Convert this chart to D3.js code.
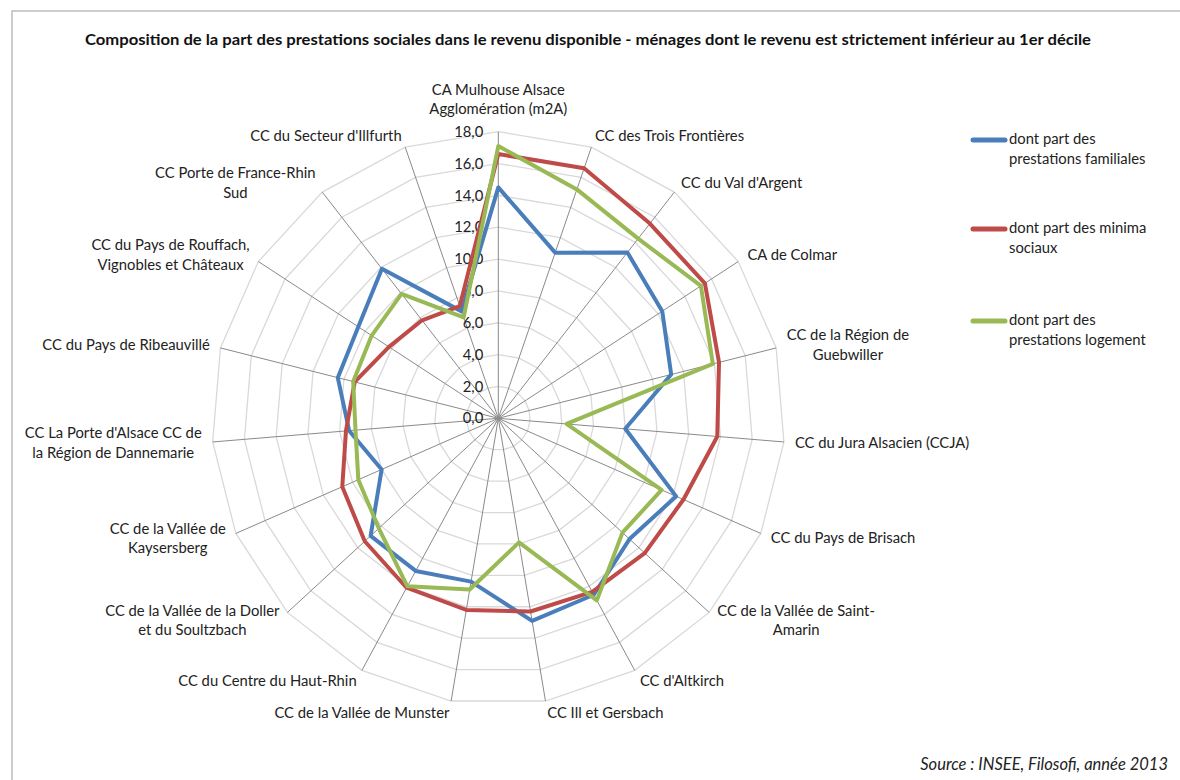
<!DOCTYPE html>
<html lang="fr">
<head>
<meta charset="utf-8">
<script src="https://cdn.jsdelivr.net/npm/d3@7"></script>
<style>
  html, body { margin: 0; padding: 0; background: #fff; }
  svg { display: block; font-family: Lato, "Open Sans", sans-serif; }
</style>
</head>
<body>
<svg id="chart" width="1180" height="780"></svg>
<script>
// Territoires (EPCI du Haut-Rhin), dans l'ordre des axes, en partant du haut, sens horaire
const categories = [
  ["CA Mulhouse Alsace", "Agglomération (m2A)"],
  ["CC des Trois Frontières"],
  ["CC du Val d'Argent"],
  ["CA de Colmar"],
  ["CC de la Région de", "Guebwiller"],
  ["CC du Jura Alsacien (CCJA)"],
  ["CC du Pays de Brisach"],
  ["CC de la Vallée de Saint-", "Amarin"],
  ["CC d'Altkirch"],
  ["CC Ill et Gersbach"],
  ["CC de la Vallée de Munster"],
  ["CC du Centre du Haut-Rhin"],
  ["CC de la Vallée de la Doller", "et du Soultzbach"],
  ["CC de la Vallée de", "Kaysersberg"],
  ["CC La Porte d'Alsace CC de", "la Région de Dannemarie"],
  ["CC du Pays de Ribeauvillé"],
  ["CC du Pays de Rouffach,", "Vignobles et Châteaux"],
  ["CC Porte de France-Rhin", "Sud"],
  ["CC du Secteur d'Illfurth"]
];

// Part dans le revenu disponible (%)
const familiales = [14.5, 11.0, 13.2, 12.3, 11.2, 8.0, 12.2, 11.2, 12.6, 12.9, 10.4, 10.9, 10.9, 8.0, 9.4, 10.4, 10.5, 11.9, 7.1];
const minima     = [16.6, 16.6, 15.5, 15.5, 14.3, 13.8, 12.7, 12.5, 12.4, 12.3, 12.2, 12.1, 11.4, 10.7, 9.6, 9.3, 8.2, 7.8, 7.45];
const logement   = [17.1, 15.2, 14.3, 15.2, 13.9, 4.3, 11.2, 10.6, 13.0, 7.9, 10.9, 12.0, 10.2, 9.6, 9.0, 9.4, 9.5, 9.9, 6.7];

const tickValues = [0, 2, 4, 6, 8, 10, 12, 14, 16, 18];

const seriesNames = [
  ["dont part des", "prestations familiales"],
  ["dont part des minima", "sociaux"],
  ["dont part des", "prestations logement"]
];
const seriesColors = ["#4a7ebb", "#be4b48", "#98b954"];

const title = "Composition de la part des prestations sociales dans le revenu disponible - ménages dont le revenu est strictement inférieur au 1er décile";
const source = "Source : INSEE, Filosofi, année 2013";

// ---- Mise en page ----
const svg = d3.select("#chart");
const cx = 498.3, cy = 418.3, R = 286.6;
const n = categories.length;
const fontSize = 14.8;
const lineH = 19.5;

const r = d3.scaleLinear().domain([0, 18]).range([0, R]);
const angle = d3.scaleLinear().domain([0, n]).range([0, 2 * Math.PI]);
const fr = d3.formatLocale({ decimal: ",", thousands: " ", grouping: [3], currency: ["", "€"] });
const fmt = fr.format(".1f");

// Cadre
svg.append("path")
  .attr("d", "M12,780 V11 H1180")
  .attr("fill", "none")
  .attr("stroke", "#bdbdbd")
  .attr("stroke-width", 1.5);

// Titre
svg.append("text")
  .attr("x", 588).attr("y", 45)
  .attr("text-anchor", "middle")
  .attr("font-weight", "bold")
  .attr("font-size", 14.5)
  .attr("fill", "#111")
  .attr("textLength", 1006)
  .attr("lengthAdjust", "spacingAndGlyphs")
  .text(title);

const g = svg.append("g").attr("transform", `translate(${cx},${cy})`);

const pt = (i, v) => [Math.sin(angle(i)) * r(v), -Math.cos(angle(i)) * r(v)];

// Grille polygonale
const ring = d3.lineRadial()
  .angle((d, i) => angle(i))
  .radius(d => r(d))
  .curve(d3.curveLinearClosed);

g.selectAll(".grid")
  .data(tickValues.filter(t => t > 0))
  .join("path")
  .attr("class", "grid")
  .attr("d", t => ring(d3.range(n).map(() => t)))
  .attr("fill", "none")
  .attr("stroke", "#d9d9d9")
  .attr("stroke-width", 1.3);

// Axes rayonnants
g.selectAll(".spoke")
  .data(d3.range(n))
  .join("line")
  .attr("class", "spoke")
  .attr("x1", 0).attr("y1", 0)
  .attr("x2", i => pt(i, 18)[0])
  .attr("y2", i => pt(i, 18)[1])
  .attr("stroke", "#8a8a8a")
  .attr("stroke-width", 1);

// Graduations
g.selectAll(".tick")
  .data(tickValues)
  .join("text")
  .attr("class", "tick")
  .attr("x", -15)
  .attr("y", t => -r(t))
  .attr("dy", "0.35em")
  .attr("text-anchor", "end")
  .attr("font-size", fontSize)
  .attr("fill", "#222")
  .text(t => fmt(t));

// Séries
const line = d3.lineRadial()
  .angle((d, i) => angle(i))
  .radius(d => r(d))
  .curve(d3.curveLinearClosed);

[familiales, minima, logement].forEach((vals, k) => {
  g.append("path")
    .attr("d", line(vals))
    .attr("fill", "none")
    .attr("stroke", seriesColors[k])
    .attr("stroke-width", 4)
    .attr("stroke-linejoin", "round");
});

// Libellés des axes : bloc centré, accolé à l'extrémité de l'axe
g.selectAll(".cat")
  .data(categories)
  .join("text")
  .attr("class", "cat")
  .attr("font-size", fontSize)
  .attr("fill", "#222")
  .each(function (lines, i) {
    const a = angle(i);
    const s = Math.sin(a), c = Math.cos(a);
    const [ex, ey] = pt(i, 18);
    const top = Math.abs(s) < 0.05;
    const t = d3.select(this);
    const spans = t.selectAll("tspan").data(lines).join("tspan").text(d => d);
    const widths = [];
    spans.each(function () { widths.push(this.getComputedTextLength()); });
    const wMax = d3.max(widths);
    let xc, yc;
    if (top) {
      xc = ex;
      yc = ey - 14 - (lines.length * lineH) / 2 + 1;
    } else {
      const gap = 11 * Math.abs(s);
      xc = s > 0 ? ex + gap + wMax / 2 : ex - gap - wMax / 2;
      yc = ey - c * 12;
    }
    spans.attr("x", xc)
      .attr("text-anchor", "middle")
      .attr("y", (d, j) => yc + (j - (lines.length - 1) / 2) * lineH)
      .attr("dy", "0.35em");
  });

// Légende
const leg = svg.append("g");
const legY = [140, 229, 321];
seriesNames.forEach((lines, k) => {
  leg.append("line")
    .attr("x1", 973).attr("x2", 1005)
    .attr("y1", legY[k]).attr("y2", legY[k])
    .attr("stroke", seriesColors[k])
    .attr("stroke-width", 5)
    .attr("stroke-linecap", "round");
  const t = leg.append("text")
    .attr("font-size", fontSize)
    .attr("fill", "#222");
  t.selectAll("tspan").data(lines).join("tspan")
    .attr("x", 1009)
    .attr("y", (d, j) => legY[k] + j * lineH)
    .attr("dy", "0.3em")
    .text(d => d);
});

// Source
svg.append("text")
  .attr("x", 1168).attr("y", 770)
  .attr("text-anchor", "end")
  .attr("font-style", "italic")
  .attr("font-size", 16.5)
  .attr("fill", "#222")
  .text(source);
</script>
</body>
</html>
